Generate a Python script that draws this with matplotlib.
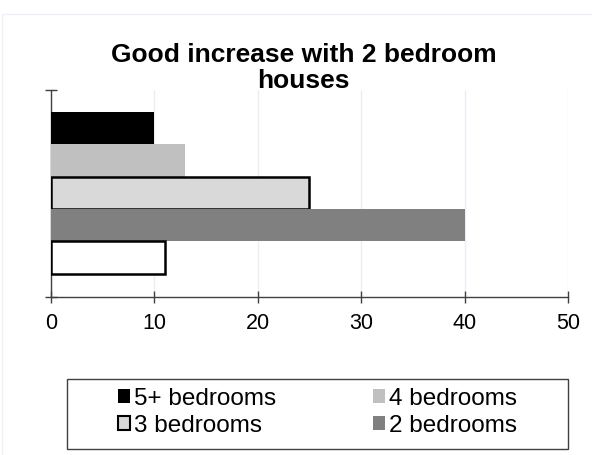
import matplotlib
matplotlib.use("Agg")
import matplotlib.pyplot as plt
from matplotlib.patches import Rectangle, Patch

plt.rcParams['font.family'] = ['Liberation Sans', 'DejaVu Sans']

# data (top to bottom)
labels = ["5+ bedrooms", "4 bedrooms", "3 bedrooms", "2 bedrooms", "1 bedroom"]
values = [10, 13, 25, 40, 11]
colors = ["#000000", "#c0c0c0", "#d9d9d9", "#808080", "#ffffff"]
edges = [None, None, "#000000", None, "#000000"]
xticks = [0, 10, 20, 30, 40, 50]

fig = plt.figure(figsize=(5.92, 4.55), dpi=100)
ax = fig.add_axes([0.0861, 0.347, 0.8733, 0.455])

bh = 0.156
top = 0.894
for i, (v, c, e) in enumerate(zip(values, colors, edges)):
    y = top - bh * (i + 0.5)
    if e:
        ax.barh(y, v, height=bh, color=c, edgecolor=e, linewidth=1.8, zorder=3)
    else:
        ax.barh(y, v, height=bh, color=c, linewidth=0, zorder=3)

ax.set_xlim(0, 50)
ax.set_ylim(0, 1)
ax.set_xticks(xticks)
ax.set_yticks([0, 1])
ax.set_yticklabels([])
ax.grid(axis='x', color='#eceef6', linewidth=1, zorder=0)
for s in ['top', 'right']:
    ax.spines[s].set_visible(False)
for s in ['left', 'bottom']:
    ax.spines[s].set_color('#404040')
    ax.spines[s].set_linewidth(1)
ax.tick_params(axis='both', direction='inout', length=9, width=1, color='#404040',
               labelsize=15.5, pad=7)

fig.text(0.513, 0.85, "Good increase with 2 bedroom\nhouses", ha='center', va='center',
         fontsize=19, fontweight='bold', linespacing=1.1)

# legend
handles = [Patch(facecolor=colors[0], edgecolor='none'),
           Patch(facecolor=colors[2], edgecolor='#000000', linewidth=1.5),
           Patch(facecolor=colors[1], edgecolor='none'),
           Patch(facecolor=colors[3], edgecolor='none')]
names = [labels[0], labels[2], labels[1], labels[3]]
fig.patches.append(Rectangle((0.113, 0.013), 0.846, 0.154, transform=fig.transFigure,
                             fill=False, edgecolor='#404040', linewidth=1))
fig.legend(handles, names, ncol=2, loc='center', bbox_to_anchor=(0.536, 0.094),
           frameon=False, fontsize=17.5, handlelength=0.5, handleheight=0.5,
           handletextpad=0.15, columnspacing=4.0, labelspacing=0.2)

# faint outer border
fig.patches.append(Rectangle((0.004, -0.01), 1.2, 0.98, transform=fig.transFigure,
                             fill=False, edgecolor='#eef0f6', linewidth=1))

fig.savefig("out.png", dpi=100)
